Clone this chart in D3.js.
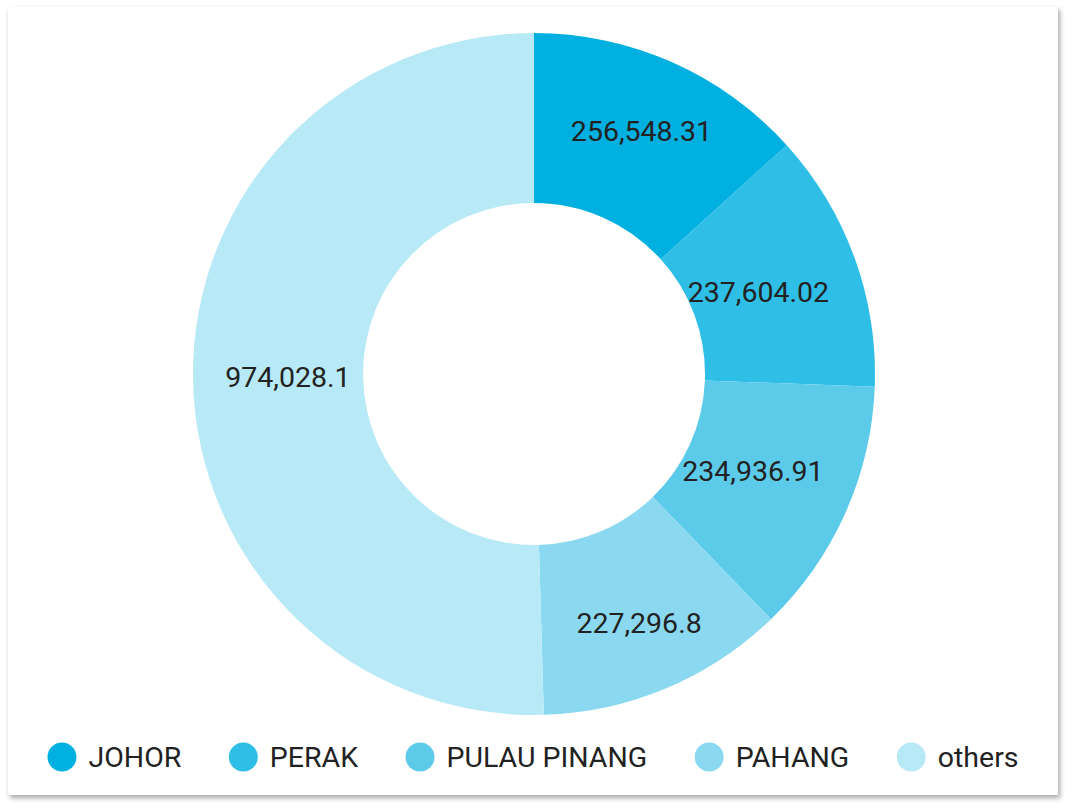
<!DOCTYPE html>
<html>
<head>
<meta charset="utf-8">
<script src="https://cdn.jsdelivr.net/npm/d3@7"></script>
<style>
  html, body { margin: 0; padding: 0; background: #fff; }
  #card {
    position: absolute;
    left: 8px; top: 7px;
    width: 1050px; height: 788px;
    background: #fff;
    box-shadow: 2px 3px 5px rgba(0,0,0,0.35);
  }
  svg { font-family: Roboto, "Noto Sans", sans-serif; }
</style>
</head>
<body>
<div id="card"></div>
<script>
/**************************************************
 * Data
 **************************************************/
const states = ["JOHOR", "PERAK", "PULAU PINANG", "PAHANG", "others"];
const values = [256548.31, 237604.02, 234936.91, 227296.8, 974028.1];
const labels = ["256,548.31", "237,604.02", "234,936.91", "227,296.8", "974,028.1"];
const colors = ["#00b0e0", "#2ebee6", "#5ccbea", "#8bd9f1", "#b8e9f6"];

/**************************************************
 * Rendering
 **************************************************/
const width = 1050, height = 788;
const cx = 526, cy = 367;
const outerR = 341, innerR = 171;
const fontSize = 28.5;
const labelPad = 32; // outer corner of a label box keeps this far from the rim

const svg = d3.select("#card")
  .append("svg")
  .attr("width", width)
  .attr("height", height);

const color = d3.scaleOrdinal().domain(states).range(colors);

const pie = d3.pie()
  .value(d => d.value)
  .sort(null);

const arc = d3.arc()
  .innerRadius(innerR)
  .outerRadius(outerR);

const data = states.map((s, i) => ({ name: s, value: values[i], label: labels[i] }));
const arcs = pie(data);

const g = svg.append("g")
  .attr("transform", `translate(${cx},${cy})`);

g.selectAll("path.slice")
  .data(arcs)
  .enter()
  .append("path")
  .attr("class", "slice")
  .attr("d", arc)
  .attr("fill", d => color(d.data.name));

const sliceLabels = g.selectAll("text.slice-label")
  .data(arcs)
  .enter()
  .append("text")
  .attr("class", "slice-label")
  .attr("text-anchor", "middle")
  .attr("dominant-baseline", "central")
  .attr("font-size", fontSize + "px")
  .attr("fill", "#222")
  .text(d => d.data.label);

// slide each label out along the mid-angle until its far corner reaches R
const R = outerR - labelPad;
sliceLabels.each(function(d) {
  const a = (d.startAngle + d.endAngle) / 2;
  const ux = Math.sin(a), uy = -Math.cos(a);
  const w = this.getComputedTextLength();
  const h = fontSize * 0.711;
  const c = [Math.sign(ux) * w / 2, Math.sign(uy) * h / 2];
  const uc = ux * c[0] + uy * c[1];
  const cc = c[0] * c[0] + c[1] * c[1];
  const t = -uc + Math.sqrt(uc * uc - cc + R * R);
  d3.select(this)
    .attr("x", t * ux)
    .attr("y", t * uy);
});

// legend, centred along the bottom
const legend = svg.append("g").attr("class", "legend");
const dotR = 14.5, dotGap = 12, itemGap = 47.5;

const items = legend.selectAll("g.item")
  .data(states)
  .enter()
  .append("g")
  .attr("class", "item");

items.append("circle")
  .attr("r", dotR)
  .attr("cx", dotR)
  .attr("cy", 0)
  .attr("fill", d => color(d));

items.append("text")
  .attr("x", dotR * 2 + dotGap)
  .attr("y", 0)
  .attr("dominant-baseline", "central")
  .attr("font-size", fontSize + "px")
  .attr("fill", "#222")
  .text(d => d);

let offsets = [], xPos = 0;
items.each(function() {
  const w = dotR * 2 + dotGap + d3.select(this).select("text").node().getComputedTextLength();
  offsets.push(xPos);
  xPos += w + itemGap;
});
const total = xPos - itemGap;
const startX = (width - total) / 2;

items.attr("transform", (d, i) => `translate(${startX + offsets[i]},750)`);
</script>
</body>
</html>
